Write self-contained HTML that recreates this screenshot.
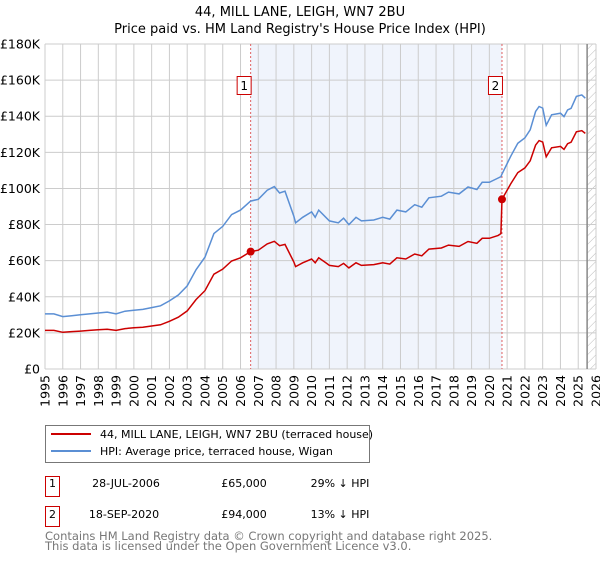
<!DOCTYPE html>
<html><head><meta charset="utf-8"><style>
body{margin:0;background:#fff;width:600px;height:560px;overflow:hidden;font-family:"Liberation Sans","DejaVu Sans",sans-serif}
svg text{font-family:"DejaVu Sans","Liberation Sans",sans-serif}
</style></head><body>
<svg id="c" width="600" height="560" xmlns="http://www.w3.org/2000/svg">
<defs><pattern id="hatch" width="6" height="6" patternUnits="userSpaceOnUse" patternTransform="rotate(45)"><line x1="0" y1="0" x2="0" y2="6" stroke="#bbb" stroke-width="1"/></pattern></defs>
<text x="300" y="16" text-anchor="middle" font-size="13">44, MILL LANE, LEIGH, WN7 2BU</text>
<text x="300" y="33" text-anchor="middle" font-size="13">Price paid vs. HM Land Registry's House Price Index (HPI)</text>
<g id="plot"></g>
<g>
<rect x="45.5" y="425.5" width="324" height="37" fill="#fff" stroke="#777"/>
<line x1="51" y1="434" x2="91" y2="434" stroke="#cc0000" stroke-width="2"/>
<text x="100" y="438" font-size="11">44, MILL LANE, LEIGH, WN7 2BU (terraced house)</text>
<line x1="51" y1="451" x2="91" y2="451" stroke="#5b8fd4" stroke-width="2"/>
<text x="100" y="455" font-size="11">HPI: Average price, terraced house, Wigan</text>
</g>
<g font-size="11">
<rect x="45.5" y="476.5" width="14" height="20" fill="#fff" stroke="#cc0000"/>
<text x="52.5" y="487" text-anchor="middle">1</text>
<text x="126" y="487" text-anchor="middle">28-JUL-2006</text>
<text x="244" y="487" text-anchor="middle">£65,000</text>
<text x="340" y="487" text-anchor="middle">29% ↓ HPI</text>
<rect x="45.5" y="506.5" width="14" height="20" fill="#fff" stroke="#cc0000"/>
<text x="52.5" y="518" text-anchor="middle">2</text>
<text x="124" y="518" text-anchor="middle">18-SEP-2020</text>
<text x="244" y="518" text-anchor="middle">£94,000</text>
<text x="340" y="518" text-anchor="middle">13% ↓ HPI</text>
</g>
<text x="45" y="540" font-size="11.5" fill="#777">Contains HM Land Registry data © Crown copyright and database right 2025.</text>
<text x="45" y="550" font-size="11.5" fill="#777">This data is licensed under the Open Government Licence v3.0.</text>
</svg>
<script>
const yearTicks=[1995,1996,1997,1998,1999,2000,2001,2002,2003,2004,2005,2006,2007,2008,2009,2010,2011,2012,2013,2014,2015,2016,2017,2018,2019,2020,2021,2022,2023,2024,2025,2026];
const valueTicks=[0,20,40,60,80,100,120,140,160,180];
const valueLabels=["£0","£20K","£40K","£60K","£80K","£100K","£120K","£140K","£160K","£180K"];
const dates=[1995,1995.5,1996,1996.5,1997,1997.5,1998,1998.5,1999,1999.5,2000,2000.5,2001,2001.5,2002,2002.5,2003,2003.5,2004,2004.5,2005,2005.5,2006,2006.57,2007,2007.5,2007.9,2008.2,2008.5,2009,2009.1,2009.5,2010,2010.2,2010.4,2010.8,2011,2011.5,2011.8,2012.1,2012.5,2012.8,2013.5,2014,2014.4,2014.8,2015.3,2015.8,2016.2,2016.6,2017.3,2017.7,2018.3,2018.8,2019.3,2019.6,2020.0,2020.5,2020.65,2020.71,2021.2,2021.6,2022,2022.3,2022.6,2022.8,2023,2023.2,2023.5,2024,2024.2,2024.4,2024.6,2024.9,2025.2,2025.4];
const hpiValues=[30.5,30.5,29,29.5,30,30.5,31,31.5,30.5,32,32.5,33,34,35,37.7,41,46,55,62,75,79,85.5,88,93,94,99,101,97.5,98.5,84.7,81,84,87,84,88,84,82,81,83.5,80,84,82,82.5,84,83,88,87,91,89.6,94.8,95.7,98,97,100.8,99.4,103.4,103.4,105.8,106.5,108,117.8,125,128,132.5,142.6,145.4,144.5,135,140.8,141.7,139.8,143.5,144.4,151,151.8,150];
const priceValues=[21.4,21.4,20.3,20.7,21,21.4,21.7,22,21.4,22.4,22.8,23.1,23.8,24.5,26.4,28.7,32.2,38.5,43.4,52.5,55.3,59.8,61.6,65,65.8,69.3,70.7,68.3,69,59.3,56.7,58.8,60.9,58.8,61.6,58.8,57.4,56.7,58.5,56,58.8,57.4,57.8,58.8,58.1,61.6,60.9,63.7,62.7,66.4,67,68.6,67.9,70.6,69.6,72.4,72.4,74,75,94,102.5,108.8,111.4,115.3,124,126.5,125.7,117.5,122.5,123.3,121.6,124.8,125.6,131.4,132,130.5];
const saleDates=[2006.57,2020.71];
const saleValues=[65,94];
const saleLabels=["1","2"];
const dataEnd=2025.5;

const L=45,R=596,T=44,B=369;
const x=v=>L+(v-1995)/(2026-1995)*(R-L);
const y=v=>B-v/180*(B-T);
const NS="http://www.w3.org/2000/svg";
const g=document.getElementById('plot');
function mk(tag,attrs,parent){const e=document.createElementNS(NS,tag);for(const k in attrs)e.setAttribute(k,attrs[k]);(parent||g).appendChild(e);return e;}

let e=mk('rect',{x:x(saleDates[0]),y:T,width:x(saleDates[1])-x(saleDates[0]),height:B-T,fill:'#f0f4fc'});


e=mk('rect',{x:x(dataEnd),y:T,width:R-x(dataEnd),height:B-T,fill:'url(#hatch)'});



yearTicks.forEach(t=>{
  const l=mk('line',{x1:x(t),x2:x(t),y1:T,y2:B,stroke:'#ccc','stroke-width':1});
  
  
  const tx=mk('text',{x:0,y:0,'font-size':12.5,'text-anchor':'end',transform:`translate(${x(t)+4.5},${B+6}) rotate(-90)`});
  tx.textContent=t;
  
  
});
valueTicks.forEach((t,i)=>{
  const l=mk('line',{x1:L,x2:R,y1:y(t),y2:y(t),stroke:'#ccc','stroke-width':1});
  
  
  const tx=mk('text',{x:40,y:y(t)+4.5,'font-size':12.5,'text-anchor':'end'});
  tx.textContent=valueLabels[i];
  
  
});
e=mk('line',{x1:x(dataEnd),x2:x(dataEnd),y1:T,y2:B,stroke:'#888','stroke-width':1.5});



saleDates.forEach((d,i)=>{
  const l=mk('line',{x1:x(d),x2:x(d),y1:T,y2:B,stroke:'#e06060','stroke-width':1,'stroke-dasharray':'2,2'});
  
  
});

const pts=(vals)=>dates.map((d,i)=>x(d).toFixed(1)+','+y(vals[i]).toFixed(1)).join(' ');
e=mk('polyline',{points:pts(hpiValues),fill:'none',stroke:'#5b8fd4','stroke-width':1.5});


e=mk('polyline',{points:pts(priceValues),fill:'none',stroke:'#cc0000','stroke-width':1.5});



saleDates.forEach((d,i)=>{
  const c=mk('circle',{cx:x(d),cy:y(saleValues[i]),r:4,fill:'#cc0000'});
  
  
  const r=mk('rect',{x:x(d)-13.5,y:76.5,width:14,height:18,fill:'#fff',stroke:'#cc0000'});
  
  
  const t=mk('text',{x:x(d)-6.5,y:90,'font-size':12,'text-anchor':'middle'});
  t.textContent=saleLabels[i];
  
  
});
</script>
</body></html>
